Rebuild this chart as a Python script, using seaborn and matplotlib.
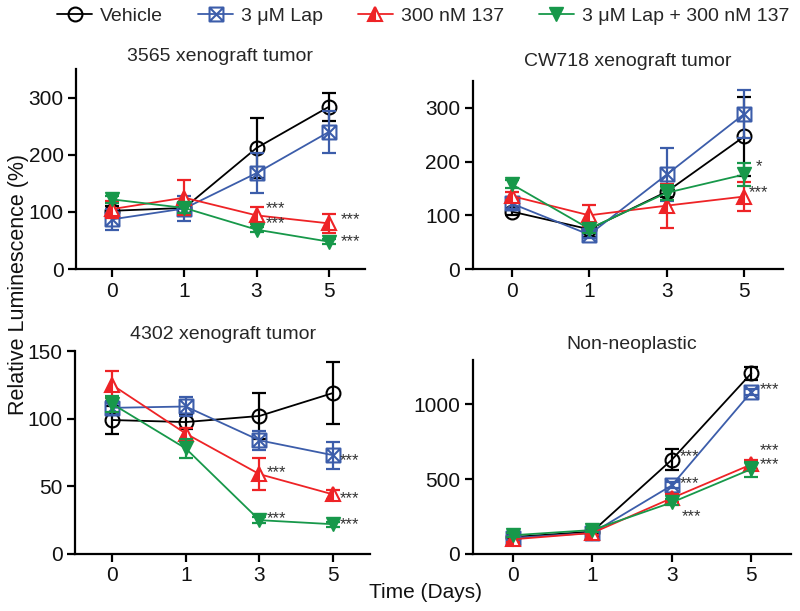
import numpy as np
import pandas as pd
import matplotlib
matplotlib.use("Agg")
import matplotlib.pyplot as plt
from matplotlib.path import Path
import seaborn as sns

# ---------------- data ----------------
days = ["0", "1", "3", "5"]
series_names = ["Vehicle", "3 \u03bcM Lap", "300 nM 137", "3 \u03bcM Lap + 300 nM 137"]

panel_titles = ["3565 xenograft tumor", "CW718 xenograft tumor",
                "4302 xenograft tumor", "Non-neoplastic"]

# 3565 xenograft tumor
p1_vehicle = [102, 107, 212, 284]
p1_vehicle_err = [8, 8, 52, 25]
p1_lap = [87, 106, 168, 240]
p1_lap_err = [18, 22, 35, 37]
p1_137 = [105, 125, 94, 80]
p1_137_err = [15, 31, 15, 17]
p1_combo = [122, 107, 69, 48]
p1_combo_err = [6, 8, 5, 5]

# CW718 xenograft tumor
p2_vehicle = [107, 74, 144, 247]
p2_vehicle_err = [6, 15, 10, 74]
p2_lap = [122, 64, 176, 289]
p2_lap_err = [10, 6, 50, 45]
p2_137 = [136, 100, 118, 135]
p2_137_err = [8, 20, 41, 27]
p2_combo = [158, 75, 142, 176]
p2_combo_err = [8, 8, 14, 21]

# 4302 xenograft tumor
p3_vehicle = [99, 97.5, 102, 119]
p3_vehicle_err = [10, 5, 17, 23]
p3_lap = [108, 109, 84, 73]
p3_lap_err = [5, 7, 7, 10]
p3_137 = [125, 89, 59, 44]
p3_137_err = [10, 4, 12, 3]
p3_combo = [111, 78, 25, 22]
p3_combo_err = [6, 7, 2, 2]

# Non-neoplastic
p4_vehicle = [113, 149, 629, 1207]
p4_vehicle_err = [15, 15, 71, 44]
p4_lap = [107, 140, 458, 1082]
p4_lap_err = [15, 15, 20, 20]
p4_137 = [98, 140, 373, 598]
p4_137_err = [15, 15, 25, 30]
p4_combo = [125, 160, 344, 567]
p4_combo_err = [12, 12, 20, 50]

panel_means = [
    [p1_vehicle, p1_lap, p1_137, p1_combo],
    [p2_vehicle, p2_lap, p2_137, p2_combo],
    [p3_vehicle, p3_lap, p3_137, p3_combo],
    [p4_vehicle, p4_lap, p4_137, p4_combo],
]
panel_errs = [
    [p1_vehicle_err, p1_lap_err, p1_137_err, p1_combo_err],
    [p2_vehicle_err, p2_lap_err, p2_137_err, p2_combo_err],
    [p3_vehicle_err, p3_lap_err, p3_137_err, p3_combo_err],
    [p4_vehicle_err, p4_lap_err, p4_137_err, p4_combo_err],
]
panel_yticks = [[0, 100, 200, 300], [0, 100, 200, 300],
                [0, 50, 100, 150], [0, 500, 1000]]
panel_ylim = [350, 350, 150, 1295]

# significance marks: (panel, series index, day index, label, dx pt, dy pt)
sig_marks = [
    (0, 2, 2, "***", 7, 5), (0, 3, 2, "***", 7, 4),
    (0, 2, 3, "***", 9, 3), (0, 3, 3, "***", 9, 0),
    (1, 3, 3, "*", 8, 6), (1, 2, 3, "***", 3, 3),
    (2, 2, 2, "***", 5, 1), (2, 3, 2, "***", 5, 1),
    (2, 1, 3, "***", 5, -4), (2, 2, 3, "***", 5, -3), (2, 3, 3, "***", 5, 0),
    (3, 0, 2, "***", 6, 2), (3, 1, 2, "***", 6, 1), (3, 3, 2, "***", 7, -10),
    (3, 1, 3, "***", 6, 2), (3, 2, 3, "***", 6, 10), (3, 3, 3, "***", 6, 3),
]

# ---------------- style ----------------
sns.set_theme(style="ticks")
plt.rcParams["font.family"] = ["Liberation Sans", "DejaVu Sans"]

colors = ["#000000", "#3C5DAA", "#EE2326", "#17984A"]

sq_x = Path([(-1, -1), (1, -1), (1, 1), (-1, 1), (-1, -1),
             (-1, -1), (1, 1), (-1, 1), (1, -1)],
            [Path.MOVETO, Path.LINETO, Path.LINETO, Path.LINETO, Path.CLOSEPOLY,
             Path.MOVETO, Path.LINETO, Path.MOVETO, Path.LINETO])

marker_kw = [
    dict(marker="o", markersize=10, markerfacecolor="none", markeredgewidth=1.5),
    dict(marker=sq_x, markersize=10, markerfacecolor="none", markeredgewidth=1.5),
    dict(marker="^", markersize=10, fillstyle="left", markerfacecoloralt="white",
         markeredgewidth=1.5),
    dict(marker="v", markersize=10, markeredgewidth=1.0),
]

fig = plt.figure(figsize=(8.0, 6.11), dpi=100)

rects = [
    (0.095, 0.5597, 0.361, 0.327),
    (0.591, 0.5597, 0.388, 0.3077),
    (0.094, 0.0933, 0.3685, 0.3322),
    (0.591, 0.0933, 0.398, 0.3175),
]
title_pads = [6, 11, 9, 8]

xpos = np.arange(len(days))
axes = []
for pi in range(4):
    ax = fig.add_axes(rects[pi])
    axes.append(ax)
    for si in range(4):
        y = np.array(panel_means[pi][si], dtype=float)
        e = np.array(panel_errs[pi][si], dtype=float)
        ax.errorbar(xpos, y, yerr=e, fmt="none", ecolor=colors[si],
                    elinewidth=1.6, capsize=5, capthick=1.6, zorder=2 + si)
        df = pd.DataFrame({"day": xpos, "value": y})
        sns.lineplot(data=df, x="day", y="value", ax=ax, color=colors[si],
                     linewidth=1.3, label=series_names[si],
                     markeredgecolor=colors[si], zorder=3 + si,
                     **marker_kw[si])
    for (p, s, d, lab, dx, dy) in sig_marks:
        if p == pi:
            ax.annotate(lab, (xpos[d], panel_means[p][s][d]),
                        xytext=(dx, dy), textcoords="offset points",
                        ha="left", va="center", fontsize=12, color="#333333",
                        zorder=10)
    ax.set_xlim(-0.5, 3.5)
    ax.set_ylim(0, panel_ylim[pi])
    ax.set_xticks(xpos)
    ax.set_xticklabels(days)
    ax.set_yticks(panel_yticks[pi])
    ax.set_xlabel("")
    ax.set_ylabel("")
    ax.set_title(panel_titles[pi], fontsize=14, pad=title_pads[pi])
    sns.despine(ax=ax)
    for sp in ["left", "bottom"]:
        ax.spines[sp].set_linewidth(1.6)
        ax.spines[sp].set_color("black")
    ax.tick_params(axis="both", labelsize=15, width=1.6, length=6,
                   color="black", labelcolor="#111111", pad=3)
    ax.get_legend().remove()

handles, labels = axes[0].get_legend_handles_labels()
fig.legend(handles, labels, loc="center", bbox_to_anchor=(0.529, 0.974), ncol=4,
           frameon=False, fontsize=14, handlelength=1.8, handletextpad=0.4,
           columnspacing=1.8)

fig.text(0.023, 0.535, "Relative Luminescence (%)", rotation=90, ha="center",
         va="center", fontsize=15.5, color="#111111")
fig.text(0.532, 0.03, "Time (Days)", ha="center", va="center", fontsize=15,
         color="#111111")

fig.savefig("out.png", dpi=100)
